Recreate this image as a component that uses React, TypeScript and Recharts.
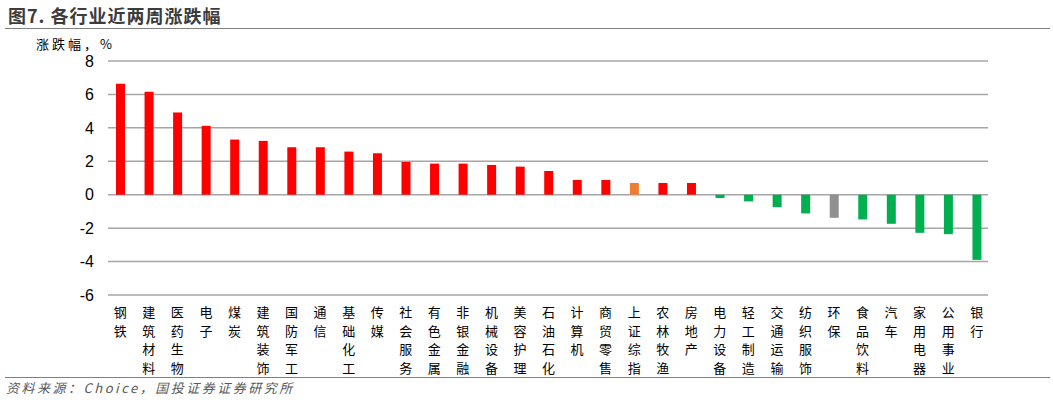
import { BarChart, Bar, XAxis, YAxis, CartesianGrid, Cell } from "recharts";

const industries = [
  "钢铁", "建筑材料", "医药生物", "电子", "煤炭", "建筑装饰", "国防军工", "通信",
  "基础化工", "传媒", "社会服务", "有色金属", "非银金融", "机械设备", "美容护理", "石油石化",
  "计算机", "商贸零售", "上证综指", "农林牧渔", "房地产", "电力设备", "轻工制造", "交通运输",
  "纺织服饰", "环保", "食品饮料", "汽车", "家用电器", "公用事业", "银行",
];

const changes = [
  6.64, 6.16, 4.92, 4.12, 3.3, 3.22, 2.84, 2.84,
  2.58, 2.48, 1.96, 1.86, 1.86, 1.78, 1.68, 1.42,
  0.88, 0.88, 0.7, 0.7, 0.7, -0.2, -0.4, -0.74,
  -1.12, -1.38, -1.48, -1.74, -2.28, -2.36, -3.9,
];

const barColors = [
  "#FF0000", "#FF0000", "#FF0000", "#FF0000", "#FF0000", "#FF0000", "#FF0000", "#FF0000",
  "#FF0000", "#FF0000", "#FF0000", "#FF0000", "#FF0000", "#FF0000", "#FF0000", "#FF0000",
  "#FF0000", "#FF0000", "#ED7D31", "#FF0000", "#FF0000", "#00B050", "#00B050", "#00B050",
  "#00B050", "#909090", "#00B050", "#00B050", "#00B050", "#00B050", "#00B050",
];

const yTicks = [-6, -4, -2, 0, 2, 4, 6, 8];

const data = industries.map((name, i) => ({ name, value: changes[i] }));

const CJK = '"Noto Sans CJK SC", "Noto Sans", sans-serif';

function VerticalTick({ x, y, payload }: any) {
  const chars = String(payload.value).split("");
  return (
    <text x={x} y={y} textAnchor="middle" fontSize={13} fill="#000" fontFamily={CJK}>
      {chars.map((c, i) => (
        <tspan key={i} x={x} dy={i === 0 ? 22 : 18.5}>
          {c}
        </tspan>
      ))}
    </text>
  );
}

export default function App() {
  return (
    <div style={{ position: "relative", width: 1053, height: 400, background: "#fff" }}>
      <style>{"body{margin:0}"}</style>
      <div
        style={{
          position: "absolute",
          left: 8,
          top: 2,
          fontFamily: CJK,
          fontWeight: 700,
          fontSize: 18,
          letterSpacing: 1,
          color: "#3c3c3c",
          whiteSpace: "nowrap",
        }}
      >
        图7. 各行业近两周涨跌幅
      </div>
      <div style={{ position: "absolute", left: 5, top: 28, width: 1045, height: 1, background: "#808080" }} />
      <div
        style={{
          position: "absolute",
          left: 36,
          top: 36,
          fontFamily: CJK,
          fontSize: 13,
          letterSpacing: 3,
          lineHeight: "16px",
          color: "#000",
          whiteSpace: "nowrap",
        }}
      >
        涨跌幅，%
      </div>
      <BarChart
        width={1053}
        height={400}
        data={data}
        margin={{ top: 61, right: 65, bottom: 75, left: 0 }}
      >
        <CartesianGrid vertical={false} stroke="#A6A6A6" strokeWidth={1.5} />
        <XAxis
          dataKey="name"
          height={30}
          interval={0}
          axisLine={false}
          tickLine={false}
          tickSize={0}
          tickMargin={0}
          padding={{ left: -2, right: -3 }}
          tick={<VerticalTick />}
        />
        <YAxis
          width={108}
          domain={[-6, 8]}
          ticks={yTicks}
          interval={0}
          axisLine={false}
          tickLine={false}
          tickSize={0}
          tickMargin={14}
          tick={{ fontSize: 16, fill: "#000", fontFamily: '"Liberation Sans", Arial, sans-serif' }}
        />
        <Bar dataKey="value" barSize={9} isAnimationActive={false}>
          {data.map((d, i) => (
            <Cell key={d.name} fill={barColors[i]} />
          ))}
        </Bar>
      </BarChart>
      <div style={{ position: "absolute", left: 5, top: 377, width: 1045, height: 1, background: "#808080" }} />
      <div
        style={{
          position: "absolute",
          left: 6,
          top: 378,
          fontFamily: CJK,
          fontStyle: "italic",
          fontSize: 13,
          letterSpacing: 2.5,
          color: "#595959",
          whiteSpace: "nowrap",
        }}
      >
        资料来源：Choice，国投证券证券研究所
      </div>
    </div>
  );
}
